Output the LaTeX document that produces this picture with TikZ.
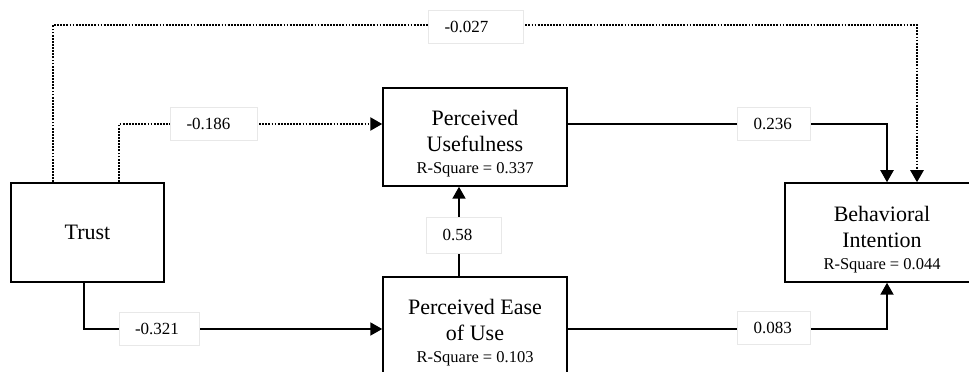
\documentclass[tikz,border=0pt]{standalone}
\usepackage{fontspec}
\setmainfont{Liberation Serif}
\usetikzlibrary{arrows.meta, calc, positioning}
\definecolor{labelgrey}{RGB}{232,232,232}

\newcommand{\rsq}[1]{{\fontsize{16.5}{20}\selectfont R-Square = #1}}

\begin{document}
\begin{tikzpicture}[> = {Triangle[length=12pt,width=13pt]}, x=1pt, y=1pt,
	factor/.style={draw, line width=1.5pt, minimum width=184pt, minimum height=98pt, inner sep=0pt, font=\fontsize{22}{26}\selectfont},
	factortext/.style={align=center, font=\fontsize{22}{26}\selectfont, yshift=-7pt},
	coef/.style={draw=labelgrey, fill=white, line width=0.8pt, text width=#1, inner xsep=16pt, minimum height=33pt, align=left, font=\fontsize{17}{20}\selectfont},
	solidpath/.style={->, line width=2pt},
	dotpath/.style={->, line width=2.4pt, dash pattern=on 1.8pt off 1.3pt}]
	% visible window
	\useasboundingbox (0,0) rectangle (969,372);
	\clip (0,0) rectangle (969,372);

	% constructs
	\node[factor, minimum width=153pt, minimum height=99pt] (trust) at (87.5,139.5) {Trust};
	\node[factor, label={[factortext]center:{Perceived\\Usefulness\\[-4pt]\rsq{0.337}}}] (pu) at (475,235) {};
	\node[factor, label={[factortext]center:{Perceived Ease\\of Use\\[-4pt]\rsq{0.103}}}] (peu) at (475,46) {};
	\node[factor, minimum width=194pt, minimum height=99pt, label={[factortext]center:{Behavioral\\Intention\\[-4pt]\rsq{0.044}}}] (bi) at (882,139.5) {};

	% paths
	\draw[dotpath] ([xshift=-34.5pt]trust.north) -- ++(0,157) -| ([xshift=35pt]bi.north);
	\draw[dotpath] ([xshift=31.5pt]trust.north) |- ([yshift=13pt]pu.west);
	\draw[solidpath] ([yshift=13pt]pu.east) -| ([xshift=5pt]bi.north);
	\draw[solidpath] ([xshift=-16pt]peu.north) -- ([xshift=-16pt]pu.south);
	\draw[solidpath] ([xshift=-3.5pt]trust.south) |- ([yshift=-3pt]peu.west);
	\draw[solidpath] ([yshift=-3pt]peu.east) -| ([xshift=5pt]bi.south);

	% path coefficients
	\node[coef=63pt] (c-tbi) at (476,345) {-0.027};
	\node[coef=55pt] (c-tpu) at (214,248) {-0.186};
	\node[coef=41pt] (c-pubi) at (774,248) {0.236};
	\node[coef=43pt, minimum height=36pt] (c-peupu) at (464,137) {0.58};
	\node[coef=48pt] (c-tpeu) at (159,43) {-0.321};
	\node[coef=41pt] (c-peubi) at (774,44) {0.083};
\end{tikzpicture}
\end{document}
